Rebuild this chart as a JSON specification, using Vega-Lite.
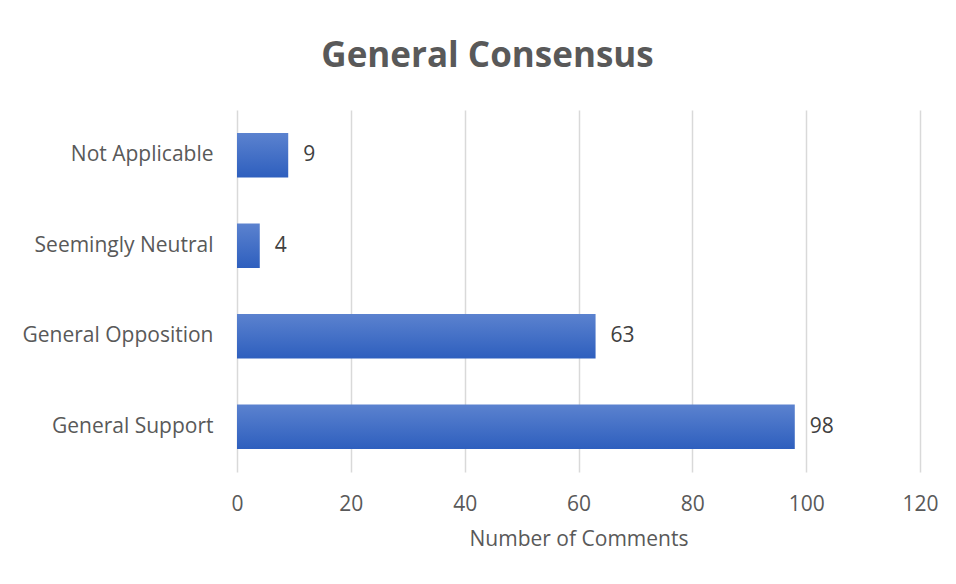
{
  "$schema": "https://vega.github.io/schema/vega-lite/v6.json",
  "width": 683,
  "height": 362,
  "autosize": {"type": "none"},
  "padding": {"left": 237, "top": 110, "right": 36, "bottom": 112},
  "background": "white",
  "title": {
    "text": "General Consensus",
    "font": "Open Sans",
    "fontSize": 35,
    "fontWeight": "bold",
    "color": "#595959",
    "anchor": "middle",
    "dx": -91,
    "offset": 36
  },
  "data": {
    "values": [
      {"category": "Not Applicable", "count": 9},
      {"category": "Seemingly Neutral", "count": 4},
      {"category": "General Opposition", "count": 63},
      {"category": "General Support", "count": 98}
    ]
  },
  "encoding": {
    "y": {
      "field": "category",
      "type": "nominal",
      "sort": ["Not Applicable", "Seemingly Neutral", "General Opposition", "General Support"],
      "scale": {"paddingInner": 0.51, "paddingOuter": 0.255},
      "axis": {
        "title": null,
        "domain": false,
        "ticks": false,
        "labelPadding": 24,
        "labelLimit": 300,
        "labelFont": "Open Sans",
        "labelFontSize": 21,
        "labelColor": "#595959"
      }
    },
    "x": {
      "field": "count",
      "type": "quantitative",
      "scale": {"domain": [0, 120], "nice": false},
      "axis": {
        "values": [0, 20, 40, 60, 80, 100, 120],
        "title": "Number of Comments",
        "titleFont": "Open Sans",
        "titleFontSize": 21,
        "titleFontWeight": "normal",
        "titleColor": "#595959",
        "titlePadding": 14,
        "domain": false,
        "ticks": false,
        "labelFlush": false,
        "labelPadding": 21,
        "labelFont": "Open Sans",
        "labelFontSize": 21,
        "labelColor": "#595959",
        "gridColor": "#d9d9d9",
        "gridWidth": 1.5
      }
    }
  },
  "layer": [
    {
      "mark": {
        "type": "bar",
        "color": {
          "gradient": "linear",
          "x1": 0, "y1": 0, "x2": 0, "y2": 1,
          "stops": [
            {"offset": 0, "color": "#5b82cf"},
            {"offset": 1, "color": "#2e5fbe"}
          ]
        }
      }
    },
    {
      "mark": {
        "type": "text",
        "align": "left",
        "baseline": "middle",
        "dx": 15,
        "font": "Open Sans",
        "fontSize": 21,
        "color": "#404040"
      },
      "encoding": {
        "text": {"field": "count", "type": "quantitative"}
      }
    }
  ],
  "config": {
    "view": {"stroke": null}
  }
}
